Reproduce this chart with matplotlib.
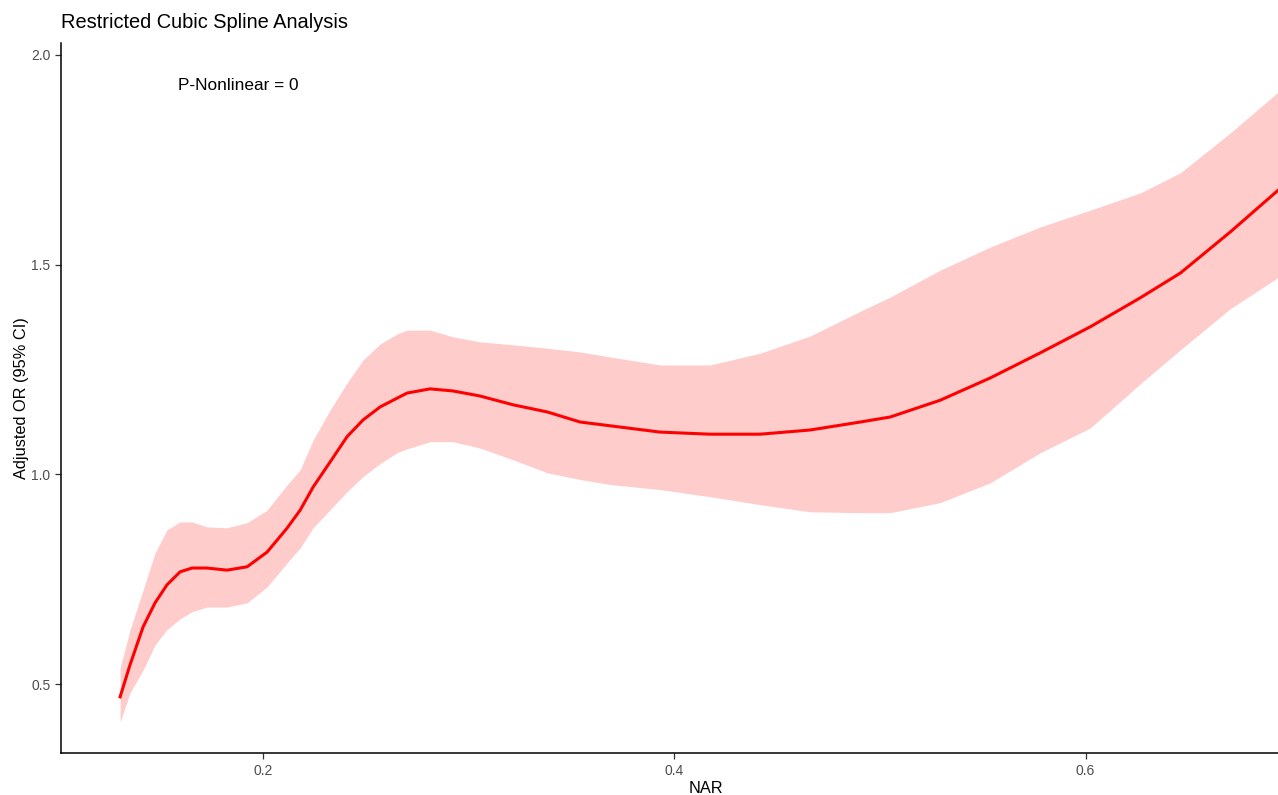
import matplotlib
matplotlib.use("Agg")
import matplotlib.pyplot as plt

plt.rcParams['font.family'] = ['Liberation Sans', 'DejaVu Sans']

nar = [0.1303, 0.1351, 0.1415, 0.1473, 0.1531, 0.1595, 0.1653, 0.1726, 0.1823, 0.1921,
       0.2018, 0.2115, 0.2179, 0.2242, 0.2325, 0.2407, 0.2485, 0.2568, 0.2651, 0.2699,
       0.2811, 0.2923, 0.3054, 0.3215, 0.3381, 0.3541, 0.3687, 0.3930, 0.4174, 0.4417,
       0.4660, 0.4904, 0.5050, 0.5293, 0.5536, 0.5780, 0.6023, 0.6266, 0.6461, 0.6704,
       0.6938]
odds_ratio = [0.470, 0.546, 0.637, 0.694, 0.737, 0.768, 0.777, 0.777, 0.772, 0.780,
              0.815, 0.872, 0.915, 0.970, 1.030, 1.090, 1.130, 1.161, 1.182, 1.194,
              1.204, 1.199, 1.187, 1.166, 1.149, 1.125, 1.116, 1.101, 1.096, 1.096,
              1.106, 1.125, 1.137, 1.177, 1.230, 1.290, 1.352, 1.421, 1.480, 1.578,
              1.678]
ci_upper = [0.539, 0.629, 0.725, 0.813, 0.868, 0.887, 0.887, 0.875, 0.873, 0.885,
            0.915, 0.975, 1.011, 1.082, 1.154, 1.218, 1.273, 1.311, 1.335, 1.344,
            1.344, 1.328, 1.316, 1.309, 1.301, 1.292, 1.280, 1.261, 1.261, 1.289,
            1.330, 1.389, 1.423, 1.487, 1.542, 1.590, 1.630, 1.671, 1.719, 1.814,
            1.912]
ci_lower = [0.410, 0.479, 0.534, 0.594, 0.630, 0.656, 0.673, 0.684, 0.684, 0.694,
            0.732, 0.789, 0.825, 0.873, 0.916, 0.959, 0.995, 1.026, 1.052, 1.061,
            1.078, 1.078, 1.063, 1.035, 1.004, 0.988, 0.976, 0.964, 0.947, 0.928,
            0.911, 0.909, 0.909, 0.933, 0.980, 1.052, 1.111, 1.216, 1.297, 1.395,
            1.470]

x_ticks = [0.2, 0.4, 0.6]
x_tick_labels = ['0.2', '0.4', '0.6']
y_ticks = [0.5, 1.0, 1.5, 2.0]
y_tick_labels = ['0.5', '1.0', '1.5', '2.0']

fig = plt.figure(figsize=(12.78, 7.95), dpi=100)
ax = fig.add_axes([60.7 / 1278, (795 - 753.3) / 795, 1 - 60.7 / 1278, (753.3 - 42.7) / 795])

ax.fill_between(nar, ci_lower, ci_upper, color='red', alpha=0.2, linewidth=0)
ax.plot(nar, odds_ratio, color='red', linewidth=2.2)

ax.set_xlim(0.1014, 0.6936)
ax.set_ylim(0.3355, 2.029)

ax.set_xticks(x_ticks)
ax.set_xticklabels(x_tick_labels)
ax.set_yticks(y_ticks)
ax.set_yticklabels(y_tick_labels)

for s in ['top', 'right']:
    ax.spines[s].set_visible(False)
for s in ['left', 'bottom']:
    ax.spines[s].set_linewidth(1.1)
    ax.spines[s].set_color('black')

ax.tick_params(axis='both', length=4, width=0.9, color='#333333',
               labelsize=10, labelcolor='#4D4D4D', pad=3.5)

ax.set_xlabel('NAR', fontsize=11.8)
ax.set_ylabel('Adjusted OR (95% CI)', fontsize=11.8)
ax.xaxis.set_label_coords(0.530, -0.049)
ax.yaxis.set_label_coords(-0.0318, 0.5)
ax.xaxis.label.set_va('center')
ax.yaxis.label.set_va('center')

fig.text(61 / 1278, 1 - 23 / 795, 'Restricted Cubic Spline Analysis',
         fontsize=14.4, ha='left', va='center')

ax.text(0.1880, 1.928, 'P-Nonlinear = 0', fontsize=12.4, ha='center', va='center')

fig.savefig('out.png', dpi=100)
